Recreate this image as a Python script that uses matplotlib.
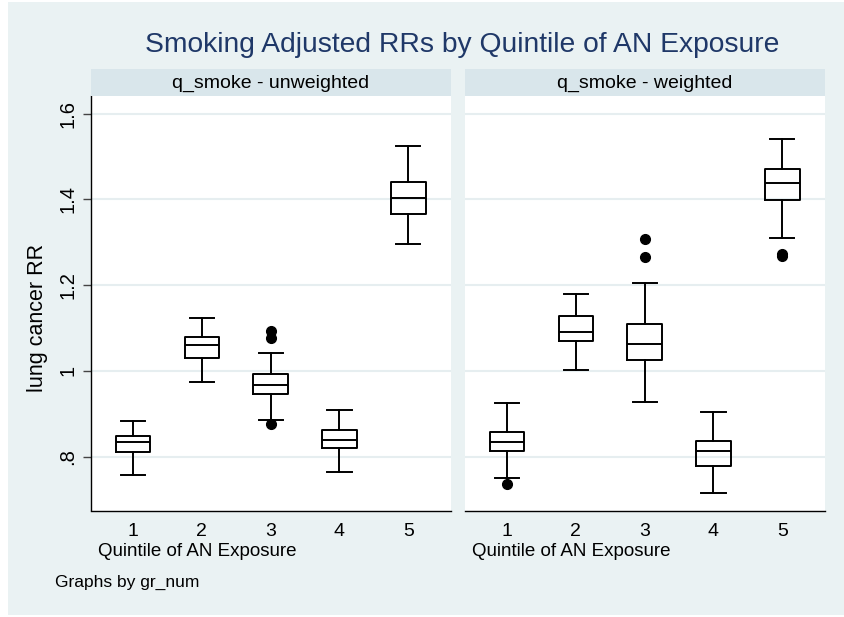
import matplotlib.pyplot as plt
from matplotlib.patches import Rectangle

plt.rcParams['font.family'] = ['Liberation Sans', 'DejaVu Sans']

quintiles = [1, 2, 3, 4, 5]
panels = ['q_smoke - unweighted', 'q_smoke - weighted']

# box stats per quintile: lower whisker, Q1, median, Q3, upper whisker
unw_lo = [0.756, 0.975, 0.886, 0.763, 1.296]
unw_q1 = [0.810, 1.029, 0.946, 0.820, 1.366]
unw_med = [0.833, 1.060, 0.967, 0.839, 1.404]
unw_q3 = [0.849, 1.080, 0.992, 0.861, 1.441]
unw_hi = [0.882, 1.124, 1.042, 0.908, 1.524]
unw_out = [[], [], [1.094, 1.077, 0.875], [], []]

wt_lo = [0.750, 1.002, 0.927, 0.715, 1.310]
wt_q1 = [0.813, 1.069, 1.025, 0.779, 1.399]
wt_med = [0.835, 1.091, 1.062, 0.812, 1.439]
wt_q3 = [0.858, 1.127, 1.110, 0.837, 1.471]
wt_hi = [0.924, 1.180, 1.206, 0.905, 1.540]
wt_out = [[0.736], [], [1.308, 1.266], [], [1.273, 1.268]]

yticks = [0.8, 1.0, 1.2, 1.4, 1.6]
ytick_labels = ['.8', '1', '1.2', '1.4', '1.6']

bg = '#EAF2F3'
strip = '#D9E6EB'
grid = '#E6EEF0'
navy = '#1F3868'


def make_stats(lo, q1, med, q3, hi, out):
    return [dict(whislo=a, q1=b, med=c, q3=d, whishi=e, fliers=f)
            for a, b, c, d, e, f in zip(lo, q1, med, q3, hi, out)]


data = [make_stats(unw_lo, unw_q1, unw_med, unw_q3, unw_hi, unw_out),
        make_stats(wt_lo, wt_q1, wt_med, wt_q3, wt_hi, wt_out)]

W, H = 844, 617
fig = plt.figure(figsize=(W / 100, H / 100), dpi=100, facecolor='white')
# graph region (thin white border on the left/top/bottom edge)
fig.patches.append(Rectangle((8 / W, 2 / H), 1 - 8 / W, 1 - 4 / H,
                             transform=fig.transFigure, facecolor=bg,
                             edgecolor='none', zorder=-10))

lefts = [91 / W, 465 / W]
width = 360 / W
bottom = 1 - 510.5 / H
top = 1 - 95.7 / H
height = top - bottom
strip_h = 26.7 / H

for i, (stats, name) in enumerate(zip(data, panels)):
    ax = fig.add_axes([lefts[i], bottom, width, height])
    ax.set_facecolor('white')
    line = dict(color='black', linewidth=1.4)
    ax.bxp(stats, positions=quintiles, widths=0.5, patch_artist=False,
           boxprops=line, whiskerprops=line, capprops=line,
           medianprops=line, capwidths=0.35,
           flierprops=dict(marker='o', markerfacecolor='black',
                           markeredgecolor='black', markersize=7))
    ax.set_xlim(0.39, 5.62)
    ax.set_ylim(0.674, 1.642)
    ax.set_yticks(yticks)
    ax.yaxis.grid(True, color=grid, linewidth=1.5)
    ax.set_axisbelow(True)
    ax.set_xticks(quintiles)
    ax.set_xticklabels([str(q) for q in quintiles], fontsize=14)
    for s in ['top', 'right']:
        ax.spines[s].set_visible(False)
    ax.spines['bottom'].set_linewidth(1.0)
    ax.tick_params(axis='x', length=0, pad=9)
    if i == 0:
        ax.set_yticklabels(ytick_labels, fontsize=14.5, rotation=90, va='center')
        ax.tick_params(axis='y', length=6, width=1.0, color='#444444', pad=4)
        ax.spines['left'].set_linewidth(1.0)
        ax.set_ylabel('lung cancer RR', fontsize=15.5)
        ax.yaxis.set_label_coords(-(91 - 48) / 360, (510.5 - 318) / 414.8)
    else:
        ax.spines['left'].set_visible(False)
        ax.tick_params(axis='y', length=0, labelleft=False)
    ax.text(0.02, -(551 - 510.5) / 414.8, 'Quintile of AN Exposure',
            transform=ax.transAxes, fontsize=13.5, ha='left', va='center')

    # panel header strip
    sx = fig.add_axes([lefts[i], top, width, strip_h])
    sx.set_facecolor(strip)
    sx.set_xticks([])
    sx.set_yticks([])
    for s in sx.spines.values():
        s.set_visible(False)
    sx.text(0.5, 0.45, name, ha='center', va='center', fontsize=14)

fig.text(462 / W, 1 - 52 / H, 'Smoking Adjusted RRs by Quintile of AN Exposure',
         ha='center', va='baseline', fontsize=20.3, color=navy)
fig.text(55 / W, 1 - 582.5 / H, 'Graphs by gr_num', ha='left', va='center',
         fontsize=12.5)

fig.savefig('out.png', dpi=100, facecolor='white')
